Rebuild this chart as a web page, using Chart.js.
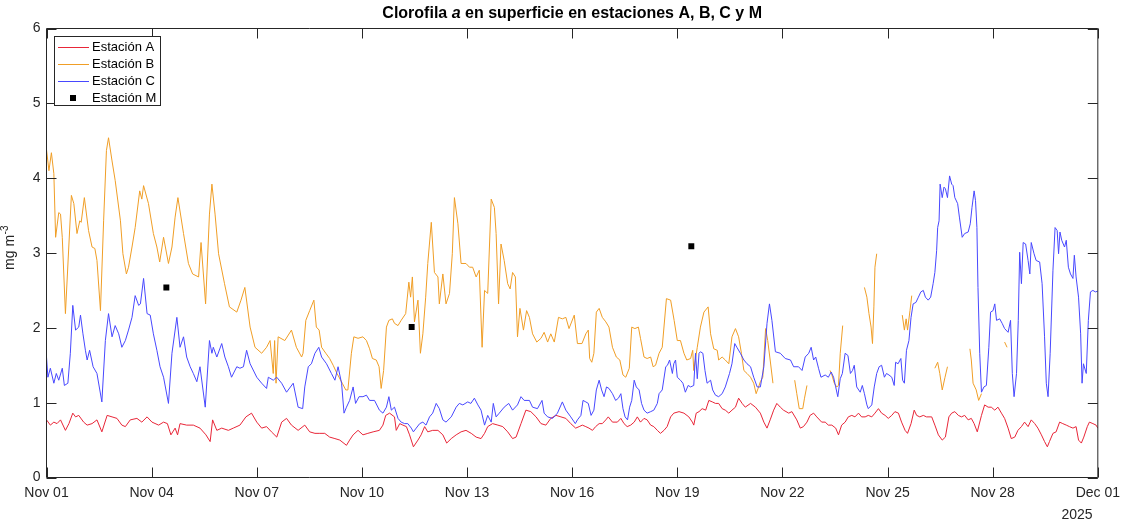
<!DOCTYPE html>
<html>
<head>
<meta charset="utf-8">
<script src="https://cdn.jsdelivr.net/npm/chart.js@4.4.1/dist/chart.umd.min.js"></script>
<style>
  html, body { margin: 0; padding: 0; background: #ffffff; overflow: hidden; }
  canvas { display: block; }
</style>
</head>
<body>
<canvas id="chl" width="1127" height="522"></canvas>
<script>
// Surface chlorophyll a (mg m^-3), November 2025.
// Each point: [days since Nov 01 00:00, value]; null marks a gap in the record.

const stationA = [
  [0,0.77],[0.11,0.70],[0.21,0.74],[0.30,0.72],[0.40,0.77],[0.54,0.63],[0.64,0.72],[0.75,0.86],[0.83,0.81],[0.92,0.83],
  [1.06,0.74],[1.16,0.70],[1.30,0.72],[1.44,0.77],[1.58,0.61],[1.73,0.83],[1.87,0.81],[2.01,0.79],[2.15,0.70],[2.25,0.68],
  [2.39,0.77],[2.58,0.79],[2.72,0.74],[2.87,0.81],[3.01,0.74],[3.20,0.70],[3.34,0.74],[3.45,0.72],[3.55,0.57],[3.67,0.66],
  [3.74,0.57],[3.81,0.72],[4.00,0.70],[4.19,0.70],[4.38,0.66],[4.55,0.57],[4.67,0.48],[4.74,0.77],[4.86,0.63],[5.00,0.66],
  [5.19,0.63],[5.33,0.66],[5.52,0.70],[5.69,0.81],[5.85,0.86],[6.00,0.74],[6.14,0.66],[6.28,0.68],[6.42,0.61],[6.57,0.54],
  [6.71,0.74],[6.85,0.79],[6.99,0.70],[7.18,0.63],[7.37,0.70],[7.51,0.61],[7.66,0.59],[7.80,0.59],[7.94,0.59],[8.08,0.54],
  [8.23,0.52],[8.37,0.50],[8.56,0.43],[8.65,0.50],[8.75,0.57],[8.89,0.63],[9.03,0.57],[9.17,0.59],[9.32,0.61],[9.50,0.63],
  [9.60,0.70],[9.68,0.83],[9.79,0.86],[9.93,0.81],[9.98,0.63],[10.08,0.72],[10.17,0.70],[10.27,0.68],[10.36,0.57],[10.47,0.41],
  [10.60,0.50],[10.69,0.57],[10.79,0.68],[10.88,0.61],[11.02,0.63],[11.17,0.63],[11.31,0.57],[11.42,0.46],[11.55,0.52],[11.69,0.57],
  [11.83,0.61],[11.97,0.63],[12.12,0.59],[12.26,0.54],[12.40,0.52],[12.50,0.59],[12.59,0.68],[12.73,0.72],[12.88,0.70],[13.02,0.68],
  [13.16,0.61],[13.30,0.52],[13.40,0.54],[13.54,0.72],[13.68,0.90],[13.82,0.88],[13.97,0.81],[14.11,0.72],[14.25,0.70],[14.39,0.79],
  [14.54,0.83],[14.68,0.81],[14.82,0.79],[14.96,0.72],[15.10,0.66],[15.20,0.68],[15.29,0.70],[15.39,0.68],[15.48,0.66],[15.58,0.63],
  [15.67,0.68],[15.77,0.72],[15.86,0.72],[15.96,0.77],[16.03,0.81],[16.15,0.74],[16.29,0.74],[16.39,0.79],[16.48,0.72],[16.57,0.68],
  [16.67,0.70],[16.77,0.74],[16.86,0.81],[16.95,0.74],[17.05,0.79],[17.14,0.77],[17.24,0.70],[17.33,0.68],[17.43,0.63],[17.52,0.59],
  [17.62,0.63],[17.71,0.68],[17.81,0.81],[17.90,0.86],[18.05,0.88],[18.19,0.86],[18.33,0.81],[18.43,0.74],[18.47,0.70],[18.54,0.86],
  [18.62,0.88],[18.71,0.92],[18.81,0.90],[18.90,1.03],[19.00,1.01],[19.09,0.99],[19.18,0.99],[19.28,0.92],[19.37,0.90],[19.47,0.86],
  [19.56,0.90],[19.66,0.94],[19.75,1.06],[19.85,0.99],[19.94,0.94],[20.09,0.99],[20.23,0.94],[20.37,0.86],[20.47,0.74],[20.56,0.66],
  [20.65,0.77],[20.75,0.90],[20.84,0.99],[20.94,0.94],[21.03,0.90],[21.18,0.86],[21.27,0.88],[21.41,0.77],[21.51,0.66],[21.60,0.68],
  [21.70,0.74],[21.79,0.83],[21.89,0.86],[21.98,0.81],[22.12,0.74],[22.22,0.74],[22.31,0.70],[22.41,0.70],[22.52,0.66],[22.60,0.57],
  [22.69,0.70],[22.79,0.74],[22.88,0.81],[22.98,0.83],[23.07,0.81],[23.17,0.86],[23.26,0.81],[23.36,0.81],[23.45,0.83],[23.55,0.81],
  [23.64,0.86],[23.74,0.92],[23.83,0.86],[23.93,0.83],[24.02,0.79],[24.12,0.83],[24.21,0.88],[24.31,0.86],[24.40,0.74],[24.50,0.63],
  [24.57,0.59],[24.67,0.72],[24.76,0.90],[24.83,0.83],[24.92,0.81],[25.02,0.83],[25.11,0.81],[25.26,0.81],[25.35,0.70],[25.45,0.57],
  [25.56,0.50],[25.65,0.54],[25.75,0.81],[25.83,0.86],[25.92,0.88],[26.02,0.83],[26.11,0.81],[26.20,0.83],[26.30,0.77],[26.39,0.79],
  [26.47,0.72],[26.56,0.61],[26.68,0.83],[26.77,0.97],[26.87,0.94],[26.96,0.94],[27.06,0.90],[27.15,0.94],[27.25,0.86],[27.34,0.79],
  [27.44,0.66],[27.53,0.52],[27.63,0.54],[27.72,0.63],[27.82,0.68],[27.91,0.74],[28.01,0.68],[28.10,0.77],[28.20,0.72],[28.29,0.66],
  [28.39,0.57],[28.48,0.48],[28.56,0.41],[28.62,0.48],[28.72,0.59],[28.81,0.61],[28.91,0.74],[29.00,0.72],[29.10,0.70],[29.19,0.68],
  [29.29,0.66],[29.38,0.68],[29.45,0.50],[29.53,0.46],[29.60,0.54],[29.70,0.68],[29.76,0.74],[29.86,0.72],[29.95,0.70],[30.00,0.66]
];

const stationB = [
  [0,4.38],[0.07,4.10],[0.14,4.34],[0.21,4.06],[0.26,3.21],[0.35,3.54],[0.40,3.52],[0.45,3.21],[0.54,2.19],[0.71,3.77],
  [0.78,3.66],[0.87,3.26],[0.95,3.43],[0.99,3.41],[1.08,3.74],[1.20,3.30],[1.30,3.08],[1.38,3.06],[1.44,2.90],[1.54,2.23],
  [1.63,3.43],[1.71,4.37],[1.77,4.54],[1.87,4.23],[1.96,3.97],[2.11,3.43],[2.18,2.99],[2.28,2.72],[2.34,2.81],[2.44,3.08],
  [2.53,3.34],[2.66,3.83],[2.72,3.72],[2.77,3.90],[2.91,3.66],[3.05,3.26],[3.15,3.08],[3.23,2.88],[3.34,3.21],[3.48,2.86],
  [3.58,3.08],[3.67,3.48],[3.75,3.74],[3.91,3.26],[4.05,2.86],[4.17,2.72],[4.34,2.68],[4.41,3.14],[4.54,2.32],[4.65,3.52],
  [4.72,3.92],[4.81,3.52],[4.91,2.99],[5.08,2.59],[5.22,2.28],[5.43,2.21],[5.55,2.37],[5.66,2.54],[5.81,2.01],[5.95,1.74],
  [6.14,1.66],[6.28,1.74],[6.38,1.83],[6.47,1.39],[6.51,1.83],[6.55,1.26],[6.61,1.88],[6.80,1.83],[6.99,1.97],[7.13,1.74],
  [7.28,1.61],[7.32,1.66],[7.40,2.10],[7.51,2.23],[7.63,2.37],[7.70,2.01],[7.78,1.97],[7.85,1.74],[7.97,1.66],[8.08,1.59],
  [8.18,1.50],[8.29,1.39],[8.44,1.26],[8.54,1.17],[8.60,1.17],[8.70,1.66],[8.77,1.88],[8.89,1.86],[9.03,1.88],[9.13,1.83],
  [9.22,1.72],[9.30,1.59],[9.41,1.57],[9.49,1.48],[9.55,1.19],[9.62,1.43],[9.70,2.01],[9.77,2.10],[9.87,2.12],[9.93,2.06],
  [10.03,2.03],[10.12,2.10],[10.25,2.19],[10.34,2.61],[10.39,2.41],[10.44,2.68],[10.50,2.08],[10.60,2.37],[10.67,1.66],[10.74,1.92],
  [10.82,2.41],[10.88,2.86],[10.98,3.41],[11.07,2.74],[11.17,2.68],[11.21,2.32],[11.31,2.72],[11.40,2.32],[11.50,2.46],[11.58,2.99],
  [11.64,3.74],[11.74,3.39],[11.83,2.86],[11.97,2.86],[12.07,2.81],[12.16,2.81],[12.26,2.68],[12.35,2.77],[12.43,1.74],[12.50,2.50],
  [12.59,2.46],[12.69,3.72],[12.78,3.61],[12.83,3.26],[12.90,2.32],[12.97,3.12],[13.06,2.90],[13.16,2.59],[13.23,2.52],[13.30,2.74],
  [13.38,2.68],[13.44,1.88],[13.51,2.26],[13.61,1.97],[13.70,2.23],[13.78,2.14],[13.87,1.92],[13.99,1.81],[14.11,1.86],[14.20,1.94],
  [14.30,1.81],[14.39,1.92],[14.49,1.81],[14.61,2.14],[14.72,2.12],[14.82,2.14],[14.91,1.99],[15.06,2.17],[15.15,1.79],[15.28,1.79],
  [15.39,1.92],[15.46,1.97],[15.50,1.59],[15.56,1.54],[15.62,1.66],[15.69,2.21],[15.77,2.26],[15.86,2.14],[15.96,2.08],[16.05,2.01],
  [16.15,1.74],[16.26,1.61],[16.36,1.57],[16.45,1.37],[16.53,1.34],[16.63,1.46],[16.70,2.01],[16.79,1.99],[16.89,2.01],[16.95,1.86],
  [17.05,1.61],[17.14,1.59],[17.24,1.61],[17.31,1.48],[17.38,1.50],[17.48,1.66],[17.57,1.74],[17.69,2.39],[17.81,2.37],[17.91,2.10],
  [18.00,1.83],[18.09,1.83],[18.19,1.66],[18.27,1.57],[18.38,1.59],[18.44,1.70],[18.47,1.43],[18.57,1.74],[18.66,2.01],[18.76,2.21],
  [18.88,2.28],[18.95,1.92],[19.04,1.72],[19.14,1.70],[19.18,1.57],[19.28,1.61],[19.37,1.57],[19.47,1.52],[19.56,1.88],[19.66,1.99],
  [19.75,1.88],[19.83,1.66],[19.90,1.43],[19.99,1.39],[20.09,1.34],[20.18,1.26],[20.25,1.12],[20.32,1.21],[20.37,1.28],[20.44,1.34],
  [20.52,1.99],[20.58,1.83],[20.65,1.57],[20.73,1.26],[20.80,null],
  [21.35,1.30],[21.41,1.12],[21.48,0.92],[21.58,0.92],[21.63,1.06],[21.70,1.23],[21.80,null],
  [22.36,1.43],[22.40,1.39],[22.48,1.26],[22.55,1.21],[22.60,1.23],[22.65,1.66],[22.72,2.03],[22.80,null],
  [23.34,2.54],[23.41,2.41],[23.47,2.19],[23.53,2.01],[23.57,1.79],[23.61,2.28],[23.64,2.81],[23.69,2.99],[23.80,null],
  [24.42,2.17],[24.48,1.97],[24.53,2.12],[24.57,1.97],[24.64,2.23],[24.69,2.43],[24.80,null],
  [25.35,1.46],[25.43,1.54],[25.49,1.39],[25.56,1.17],[25.64,1.34],[25.71,1.48],[25.80,null],
  [26.35,1.72],[26.39,1.57],[26.44,1.26],[26.53,1.17],[26.60,1.03],[26.68,1.12],[26.80,null],
  [27.34,1.81],[27.41,1.74]
];

const stationC = [
  [0,1.61],[0.04,1.34],[0.11,1.46],[0.21,1.26],[0.28,1.39],[0.35,1.30],[0.45,1.46],[0.51,1.23],[0.61,1.26],[0.68,1.66],
  [0.75,2.30],[0.83,1.97],[0.92,2.01],[0.97,2.17],[1.04,1.92],[1.11,1.70],[1.16,1.57],[1.23,1.70],[1.33,1.48],[1.44,1.39],
  [1.58,1.01],[1.68,1.83],[1.77,2.19],[1.87,1.88],[1.96,2.03],[2.06,1.92],[2.15,1.74],[2.25,1.83],[2.34,1.97],[2.44,2.14],
  [2.53,2.43],[2.63,2.30],[2.68,2.32],[2.77,2.66],[2.87,2.19],[2.96,2.17],[3.05,1.92],[3.15,1.70],[3.24,1.48],[3.34,1.34],
  [3.48,0.99],[3.58,1.66],[3.72,2.14],[3.81,1.74],[3.91,1.88],[4.00,1.61],[4.10,1.48],[4.19,1.39],[4.29,1.28],[4.38,1.48],
  [4.53,0.94],[4.65,1.83],[4.72,1.66],[4.76,1.74],[4.86,1.61],[5.00,1.79],[5.09,1.61],[5.19,1.48],[5.28,1.34],[5.43,1.48],
  [5.52,1.46],[5.62,1.48],[5.71,1.70],[5.81,1.52],[6.00,1.34],[6.14,1.26],[6.28,1.19],[6.33,1.34],[6.47,1.30],[6.57,1.34],
  [6.71,1.26],[6.85,1.14],[7.04,1.26],[7.18,0.94],[7.31,0.92],[7.37,1.21],[7.47,1.48],[7.56,1.52],[7.66,1.66],[7.77,1.74],
  [7.85,1.61],[7.99,1.52],[8.13,1.39],[8.23,1.30],[8.32,1.48],[8.42,1.26],[8.49,0.86],[8.56,0.94],[8.65,1.03],[8.75,1.21],
  [8.82,0.99],[8.92,1.08],[9.03,1.08],[9.13,1.10],[9.22,1.03],[9.36,1.03],[9.50,0.90],[9.60,0.86],[9.70,0.94],[9.77,1.08],
  [9.84,0.90],[9.93,0.94],[10.03,0.79],[10.12,0.74],[10.22,0.72],[10.31,0.72],[10.41,0.66],[10.47,0.61],[10.55,0.66],[10.65,0.72],
  [10.74,0.74],[10.83,0.70],[10.93,0.81],[11.02,0.86],[11.12,0.99],[11.21,0.92],[11.31,0.77],[11.40,0.74],[11.55,0.81],[11.69,0.94],
  [11.78,0.99],[11.88,0.97],[12.02,1.01],[12.11,0.99],[12.21,1.06],[12.31,0.97],[12.40,0.90],[12.50,0.70],[12.59,0.83],[12.69,0.74],
  [12.75,0.99],[12.83,0.81],[12.92,0.86],[13.06,0.94],[13.19,0.99],[13.30,0.90],[13.44,0.97],[13.54,1.08],[13.63,1.03],[13.78,1.03],
  [13.87,0.94],[14.01,0.92],[14.14,1.03],[14.20,0.86],[14.30,0.81],[14.44,0.79],[14.58,0.86],[14.72,1.01],[14.82,0.90],[14.96,0.81],
  [15.09,0.72],[15.15,0.77],[15.25,0.83],[15.31,1.03],[15.39,1.01],[15.46,0.99],[15.54,0.83],[15.62,0.90],[15.69,1.17],[15.77,1.30],
  [15.84,1.17],[15.91,1.08],[15.98,1.21],[16.05,1.19],[16.15,1.12],[16.24,1.03],[16.32,1.06],[16.39,1.12],[16.45,0.92],[16.51,0.81],
  [16.58,0.77],[16.64,0.94],[16.70,1.03],[16.77,1.30],[16.83,1.21],[16.91,1.17],[16.98,0.99],[17.05,0.90],[17.14,0.86],[17.24,0.88],
  [17.33,0.90],[17.43,0.99],[17.48,1.12],[17.57,1.17],[17.67,1.48],[17.72,1.50],[17.78,1.57],[17.86,1.39],[17.90,1.52],[17.95,1.57],
  [18.00,1.34],[18.09,1.30],[18.16,1.26],[18.23,1.14],[18.31,1.23],[18.38,1.21],[18.47,1.23],[18.52,1.66],[18.57,1.32],[18.62,1.66],
  [18.66,1.68],[18.73,1.66],[18.79,1.43],[18.85,1.26],[18.95,1.30],[19.01,1.17],[19.09,1.10],[19.18,1.08],[19.28,1.12],[19.37,1.21],
  [19.49,1.39],[19.56,1.52],[19.64,1.79],[19.70,1.74],[19.80,1.66],[19.90,1.57],[19.99,1.52],[20.09,1.48],[20.18,1.34],[20.28,1.21],
  [20.37,1.21],[20.47,1.48],[20.56,2.06],[20.63,2.32],[20.70,2.10],[20.80,1.68],[20.94,1.66],[21.08,1.59],[21.23,1.57],[21.32,1.48],
  [21.46,1.48],[21.56,1.43],[21.65,1.61],[21.75,1.66],[21.82,1.74],[21.89,1.57],[21.95,1.61],[22.03,1.46],[22.10,1.34],[22.22,1.37],
  [22.31,1.34],[22.39,1.41],[22.46,1.34],[22.52,1.21],[22.58,1.08],[22.65,1.32],[22.71,1.39],[22.79,1.66],[22.87,1.63],[22.94,1.39],
  [23.00,1.43],[23.05,1.50],[23.12,1.21],[23.22,1.14],[23.28,1.23],[23.34,1.12],[23.41,0.97],[23.45,0.92],[23.55,0.97],[23.62,1.21],
  [23.69,1.39],[23.76,1.48],[23.83,1.50],[23.91,1.34],[23.97,1.39],[24.04,1.37],[24.12,1.34],[24.19,1.23],[24.23,1.54],[24.30,1.52],
  [24.38,1.59],[24.43,1.30],[24.48,1.26],[24.54,1.70],[24.61,1.83],[24.67,2.14],[24.73,2.32],[24.81,2.34],[24.88,2.41],[24.95,2.48],
  [25.02,2.50],[25.08,2.41],[25.16,2.37],[25.23,2.41],[25.30,2.59],[25.35,2.74],[25.40,3.03],[25.43,3.34],[25.47,3.43],[25.50,3.92],
  [25.56,3.74],[25.61,3.88],[25.65,3.86],[25.71,3.74],[25.77,4.03],[25.83,3.92],[25.87,3.90],[25.92,3.74],[26.00,3.66],[26.05,3.48],
  [26.13,3.21],[26.20,3.26],[26.30,3.28],[26.36,3.39],[26.41,3.61],[26.47,3.83],[26.51,3.70],[26.55,3.34],[26.58,2.54],[26.63,1.66],
  [26.68,1.14],[26.75,1.21],[26.82,1.23],[26.89,1.74],[26.94,2.21],[27.01,2.23],[27.06,2.32],[27.11,2.10],[27.20,2.12],[27.27,2.06],
  [27.34,1.99],[27.44,1.94],[27.51,2.10],[27.56,1.39],[27.61,1.08],[27.68,1.39],[27.73,2.10],[27.77,3.01],[27.82,2.59],[27.87,3.14],
  [27.94,3.12],[28.01,2.90],[28.06,2.72],[28.10,3.14],[28.18,2.99],[28.24,2.90],[28.34,2.88],[28.41,2.59],[28.48,1.88],[28.53,1.26],
  [28.58,1.08],[28.64,1.66],[28.72,2.77],[28.78,3.34],[28.84,3.30],[28.88,2.99],[28.92,3.28],[28.97,3.17],[29.05,3.08],[29.10,3.17],
  [29.16,2.81],[29.22,2.72],[29.29,2.66],[29.33,2.97],[29.38,2.68],[29.45,2.41],[29.51,1.92],[29.55,1.26],[29.59,1.52],[29.67,1.39],
  [29.73,2.10],[29.79,2.48],[29.86,2.50],[29.93,2.48],[30.00,2.49]
];

const stationM = [[3.42,2.54],[10.42,2.01],[18.40,3.09]];

const seriesNames = ['Estación A', 'Estación B', 'Estación C', 'Estación M'];
const seriesColors = ['rgb(232,38,56)', 'rgb(240,158,38)', 'rgb(72,72,255)', '#000000'];

const xTickDays = [0, 3, 6, 9, 12, 15, 18, 21, 24, 27, 30];
const xTickLabels = ['Nov 01', 'Nov 04', 'Nov 07', 'Nov 10', 'Nov 13', 'Nov 16',
                     'Nov 19', 'Nov 22', 'Nov 25', 'Nov 28', 'Dec 01'];
const yTicks = [0, 1, 2, 3, 4, 5, 6];
const yearLabel = '2025';

const FONT = '"Liberation Sans", Arial, Helvetica, sans-serif';
const INK = '#262626';

const toXY = arr => arr.map(p => ({ x: p[0], y: p[1] }));

// Box, inward tick marks, legend, title and axis labels
const matlabFrame = {
  id: 'matlabFrame',
  afterDraw(chart) {
    const { ctx, chartArea: a, scales } = chart;
    const xs = scales.x, ys = scales.y;
    ctx.save();
    ctx.strokeStyle = INK;
    ctx.lineWidth = 1;
    ctx.beginPath();
    ctx.rect(a.left, a.top, a.right - a.left, a.bottom - a.top);
    ctx.stroke();

    const TL = 10;
    ctx.beginPath();
    xTickDays.forEach(d => {
      const px = Math.round(xs.getPixelForValue(d)) + 0.5;
      ctx.moveTo(px, a.bottom); ctx.lineTo(px, a.bottom - TL);
      ctx.moveTo(px, a.top); ctx.lineTo(px, a.top + TL);
    });
    yTicks.forEach(v => {
      const py = Math.round(ys.getPixelForValue(v)) + 0.5;
      ctx.moveTo(a.left, py); ctx.lineTo(a.left + TL, py);
      ctx.moveTo(a.right, py); ctx.lineTo(a.right - TL, py);
    });
    ctx.stroke();

    // legend
    const lx = 54.5, ly = 36.5, lw = 106, lh = 69;
    ctx.fillStyle = '#ffffff';
    ctx.fillRect(lx, ly, lw, lh);
    ctx.strokeStyle = INK;
    ctx.strokeRect(lx, ly, lw, lh);
    ctx.font = '13px ' + FONT;
    ctx.textBaseline = 'middle';
    ctx.textAlign = 'left';
    seriesNames.forEach((name, i) => {
      const ry = 47 + 16.9 * i;
      if (i < 3) {
        ctx.strokeStyle = seriesColors[i];
        ctx.beginPath();
        ctx.moveTo(58, Math.round(ry) + 0.5);
        ctx.lineTo(89, Math.round(ry) + 0.5);
        ctx.stroke();
      } else {
        ctx.fillStyle = seriesColors[i];
        ctx.fillRect(70, Math.round(ry) - 3, 6, 6);
      }
      ctx.fillStyle = '#000000';
      ctx.fillText(name, 92, ry + 0.5);
    });

    // title with italic "a"
    const parts = [
      ['Clorofila ', 'bold 16px ' + FONT],
      ['a', 'italic bold 16px ' + FONT],
      [' en superficie en estaciones A, B, C y M', 'bold 16px ' + FONT]
    ];
    let total = 0;
    parts.forEach(p => { ctx.font = p[1]; total += ctx.measureText(p[0]).width; });
    let tx = (a.left + a.right) / 2 - total / 2;
    ctx.fillStyle = '#000000';
    ctx.textBaseline = 'middle';
    parts.forEach(p => { ctx.font = p[1]; ctx.fillText(p[0], tx, 14); tx += ctx.measureText(p[0]).width; });

    // y-axis label: mg m^-3
    ctx.save();
    ctx.translate(13.5, 248);
    ctx.rotate(-Math.PI / 2);
    ctx.fillStyle = INK;
    ctx.textBaseline = 'alphabetic';
    ctx.font = '14px ' + FONT;
    const base = 'mg m';
    const wBase = ctx.measureText(base).width;
    ctx.font = '10px ' + FONT;
    const sup = '-3';
    const wSup = ctx.measureText(sup).width;
    const start = -(wBase + wSup) / 2;
    ctx.font = '14px ' + FONT;
    ctx.fillText(base, start, 0);
    ctx.font = '10px ' + FONT;
    ctx.fillText(sup, start + wBase + 0.5, -6);
    ctx.restore();

    // year under the last date label
    ctx.font = '14px ' + FONT;
    ctx.fillStyle = INK;
    ctx.textAlign = 'center';
    ctx.textBaseline = 'middle';
    ctx.fillText(yearLabel, 1077, 515);
    ctx.restore();
  }
};

new Chart(document.getElementById('chl'), {
  type: 'line',
  data: {
    datasets: [
      { label: seriesNames[3], type: 'scatter', data: toXY(stationM), order: 0,
        showLine: false, pointStyle: 'rect', pointRadius: 4.2, pointBorderWidth: 0,
        pointBackgroundColor: seriesColors[3], borderColor: seriesColors[3] },
      { label: seriesNames[2], data: toXY(stationC), order: 1, borderColor: seriesColors[2] },
      { label: seriesNames[1], data: toXY(stationB), order: 2, borderColor: seriesColors[1], spanGaps: false },
      { label: seriesNames[0], data: toXY(stationA), order: 3, borderColor: seriesColors[0] }
    ]
  },
  options: {
    responsive: false,
    devicePixelRatio: 1,
    animation: false,
    events: [],
    layout: { padding: { top: 28.5, right: 27.5, left: 0, bottom: 0 } },
    elements: {
      line: { borderWidth: 1, tension: 0, fill: false },
      point: { radius: 0 }
    },
    plugins: { legend: { display: false }, title: { display: false }, tooltip: { enabled: false } },
    scales: {
      x: {
        type: 'linear', min: 0, max: 30,
        afterBuildTicks: s => { s.ticks = xTickDays.map(v => ({ value: v })); },
        afterFit: s => { s.height = 44.5; },
        grid: { display: false, drawTicks: false },
        border: { display: false },
        ticks: {
          autoSkip: false, maxRotation: 0, minRotation: 0, padding: 7,
          color: INK, font: { family: FONT, size: 14 },
          callback: v => xTickLabels[xTickDays.indexOf(v)]
        }
      },
      y: {
        min: 0, max: 6,
        afterBuildTicks: s => { s.ticks = yTicks.map(v => ({ value: v })); },
        afterFit: s => { s.width = 46.5; },
        grid: { display: false, drawTicks: false },
        border: { display: false },
        ticks: { padding: 6, color: INK, font: { family: FONT, size: 14 } }
      }
    }
  },
  plugins: [matlabFrame]
});
</script>
</body>
</html>
